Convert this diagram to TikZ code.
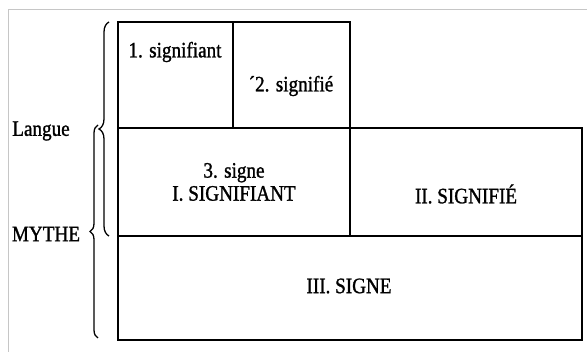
\documentclass[tikz,border=0pt]{standalone}
\usepackage{fontspec}
\setmainfont{Liberation Serif}
\newfontfamily\scanfont[FakeStretch=0.87,FakeBold=1.2]{Liberation Serif}
\usetikzlibrary{decorations.pathreplacing}

\begin{document}
\begin{tikzpicture}[x=1pt,y=-1pt,
        cell/.style={draw, line width=1.8pt},
        lbl/.style={font=\scanfont\fontsize{22}{23}\selectfont, inner sep=0pt, align=center},
        bracket/.style={decorate, decoration={brace, amplitude=#1}, line width=1.3pt}]
        \useasboundingbox (0,0) rectangle (587,352);
        \draw[gray!45, line width=0.8pt] (587,9) -- (8,9) -- (8,352);
        % langue
        \draw[cell] (118,22) rectangle (233,128);
        \draw[cell] (233,22) rectangle (350,128);
        % mythe
        \draw[cell] (118,128) rectangle (350,236);
        \draw[cell] (350,128) rectangle (582,236);
        \draw[cell] (118,236) rectangle (582,340);
        \node[lbl] (sa) at (175,52) {1. signifiant};
        \node[lbl] (se) at (291,86) {´2. signifié};
        \node[lbl] (SA) at (234,182) {3. signe\\I. SIGNIFIANT};
        \node[lbl] (SE) at (466,194) {II. SIGNIFIÉ};
        \node[lbl] (SG) at (349,286) {III. SIGNE};
        % accolades
        \coordinate (lt) at (109,22);
        \coordinate (lb) at (109,236);
        \coordinate (mt) at (98,125);
        \coordinate (mb) at (98,338);
        \draw[bracket=10pt] (lb) -- (lt);
        \draw[bracket=8pt] (mb) -- (mt);
        \node[lbl] (langue) at (41,131) {Langue};
        \node[lbl] (mythe) at (46,234) {MYTHE};
\end{tikzpicture}
\end{document}
